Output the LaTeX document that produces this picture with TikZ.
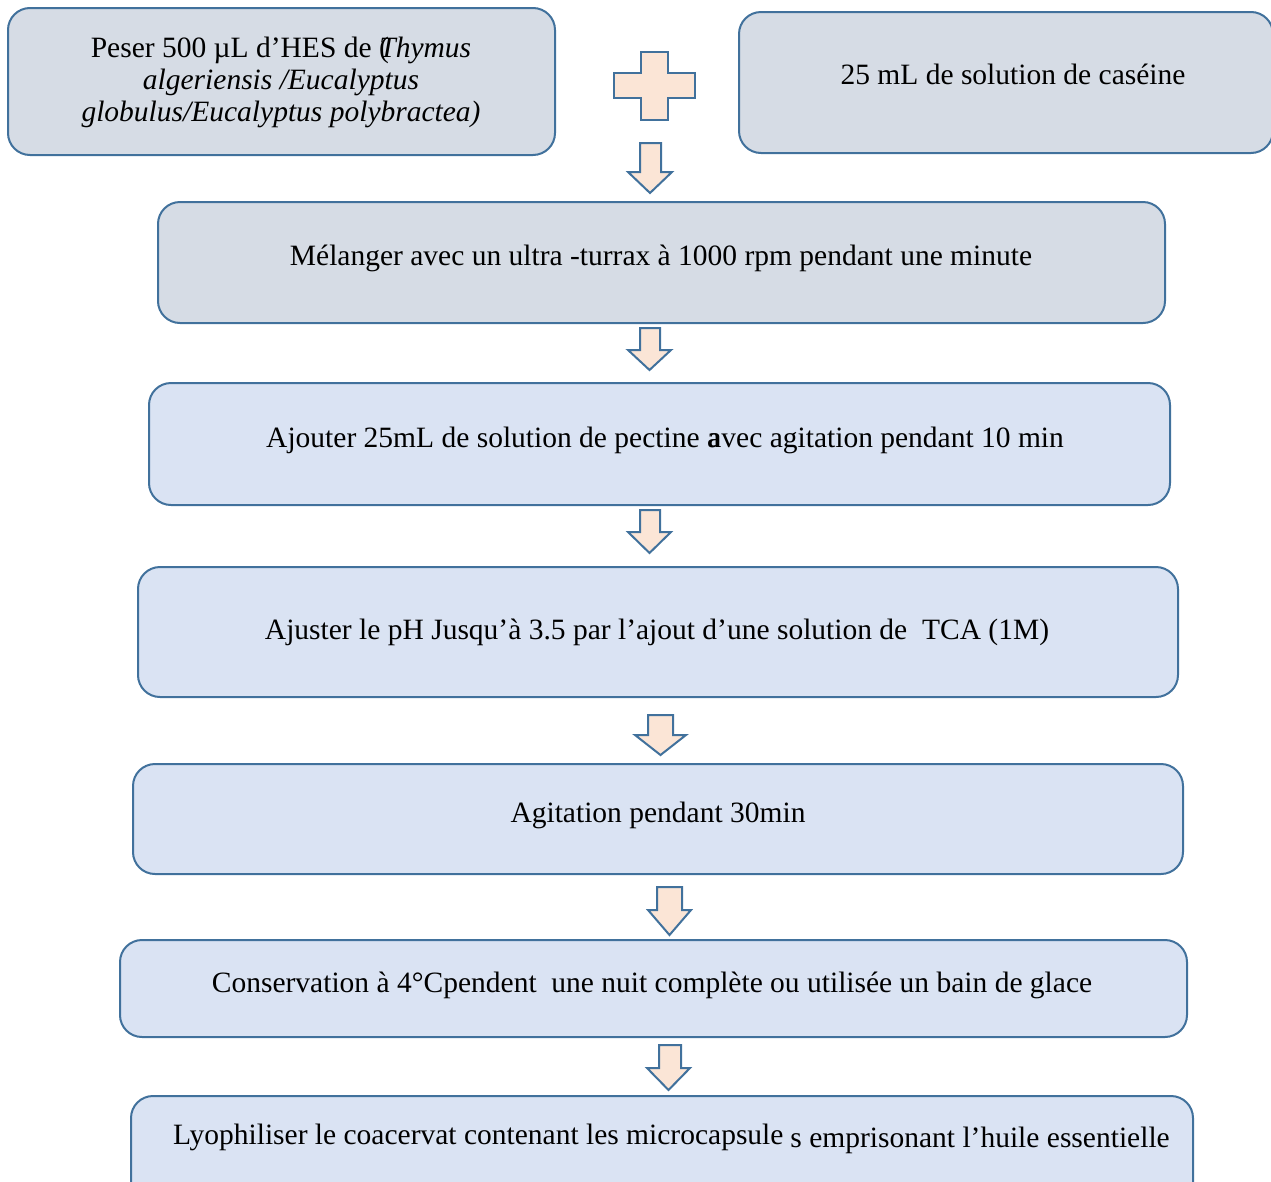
\documentclass[tikz,border=0pt]{standalone}
\usepackage{fontspec}
\setmainfont{Liberation Serif}
\definecolor{bordc}{HTML}{41719C}
\definecolor{grayfill}{HTML}{D6DCE5}
\definecolor{bluefill}{HTML}{DAE3F3}
\definecolor{arrfill}{HTML}{FBE5D6}
\tikzset{
  box/.style={draw=bordc, line width=2pt, rounded corners=22pt, inner sep=0pt},
  graybox/.style={box, fill=grayfill},
  bluebox/.style={box, fill=bluefill},
  arrst/.style={draw=bordc, line width=2pt, fill=arrfill, line join=miter},
  txt/.style={font=\fontsize{29.5}{32}\selectfont, inner sep=0pt, anchor=base, align=center}
}
\newcommand\blockarr[7]{% left right shaftL shaftR top headstart bottom
  \draw[arrst] (#3,#5) -- (#4,#5) -- (#4,#6) -- (#2,#6) -- ({(#1+#2)/2},#7) -- (#1,#6) -- (#3,#6) -- cycle;}
\begin{document}
\begin{tikzpicture}[x=1pt,y=-1pt]
\useasboundingbox (0,0) rectangle (1271,1181);
% top boxes
\node[graybox, minimum width=547pt, minimum height=147pt] (b1) at (281.5,81.5) {};
\node[txt] (t1) at (281,121) {Peser 500 µL d’HES de (\kern-0.32em\textit{Thymus}\\\textit{algeriensis /Eucalyptus}\\\textit{globulus/Eucalyptus polybractea)}};
\node[graybox, minimum width=534pt, minimum height=141pt] (b2) at (1006,82.5) {};
\node[txt] (t2) at (1013,84) {25 mL de solution de caséine};
% plus
\draw[arrst] (641,52) -- (668,52) -- (668,73) -- (695,73) -- (695,98) -- (668,98) -- (668,120) -- (641,120) -- (641,98) -- (614,98) -- (614,73) -- (641,73) -- cycle;
% arrow 1
\blockarr{628}{672}{640}{661}{143}{172}{193}
% step boxes
\node[graybox, minimum width=1007pt, minimum height=121pt] (b3) at (661.5,262.5) {};
\node[txt] (t3) at (661,265) {Mélanger avec un ultra -turrax à 1000 rpm pendant une minute};
\blockarr{628}{671}{640}{660}{328}{350}{370}
\node[bluebox, minimum width=1021pt, minimum height=122pt] (b4) at (659.5,444) {};
\node[txt] (t4) at (665,447) {Ajouter 25mL de solution de pectine {a\kern-0.4em a}vec agitation pendant 10 min};
\blockarr{628}{671}{640}{660}{510}{532}{553}
\node[bluebox, minimum width=1040pt, minimum height=130pt] (b5) at (658,632) {};
\node[txt] (t5) at (657,639) {Ajuster le pH Jusqu’à 3.5 par l’ajout d’une solution de\ \ TCA (1M)};
\blockarr{635}{686}{648}{673}{715}{735}{755}
\node[bluebox, minimum width=1050pt, minimum height=110pt] (b6) at (658,819) {};
\node[txt] (t6) at (658,822) {Agitation pendant 30min};
\blockarr{648}{691}{657}{682}{887}{910}{935}
\node[bluebox, minimum width=1067pt, minimum height=97pt] (b7) at (653.5,988.5) {};
\node[txt] (t7) at (652,992) {Conservation à 4°Cpendent\ \ une nuit complète ou utilisée un bain de glace};
\blockarr{647}{690}{659}{681}{1045}{1068}{1090}
\node[bluebox, minimum width=1062pt, minimum height=110pt] (b8) at (662,1151) {};
\node[txt, anchor=base west] (t8) at (173,1144) {Lyophiliser le coacervat contenant les microcapsule\kern7pt\raisebox{-3pt}{s emprisonant l’huile essentielle}};
\end{tikzpicture}
\end{document}
